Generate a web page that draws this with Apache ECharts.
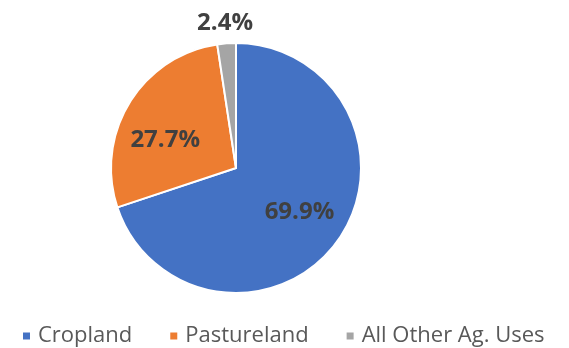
<!DOCTYPE html>
<html>
<head>
<meta charset="utf-8">
<script src="https://cdn.jsdelivr.net/npm/echarts@6/dist/echarts.min.js"></script>
<style>
  html, body { margin: 0; padding: 0; background: #fff; }
  #chart { width: 569px; height: 348px; }
</style>
</head>
<body>
<div id="chart"></div>
<script>
// Share of agricultural land by use
const categories = ['Cropland', 'Pastureland', 'All Other Ag. Uses'];
const shares = [69.9, 27.7, 2.4];
const colors = ['#4472C4', '#ED7D31', '#A5A5A5'];

const center = [236, 168];
const R = 125;
const fontFamily = '"Open Sans", sans-serif';

const slices = categories.map((name, i) => ({ name, value: shares[i] }));

const labelStyle = {
  formatter: p => p.value.toFixed(1) + '%',
  color: '#404040',
  fontSize: 24,
  fontWeight: 'bold',
  fontFamily
};

const chart = echarts.init(document.getElementById('chart'));
chart.setOption({
  animation: false,
  color: colors,
  legend: {
    data: categories,
    top: 320,
    left: 16,
    icon: 'rect',
    itemWidth: 9,
    itemHeight: 9,
    itemGap: 36,
    textStyle: { color: '#595959', fontSize: 22, fontFamily, padding: [0, 0, 0, 2] }
  },
  series: [
    {
      // the slices themselves
      type: 'pie',
      center,
      radius: [0, R],
      startAngle: 90,
      clockwise: true,
      data: slices,
      itemStyle: { borderColor: '#fff', borderWidth: 2 },
      label: { show: false },
      labelLine: { show: false },
      silent: true
    },
    {
      // value labels for the two large slices
      type: 'pie',
      center,
      radius: [28, R],
      startAngle: 90,
      data: slices.map((d, i) => ({
        ...d,
        label: { show: i < 2, offset: i === 1 ? [-3, 14] : [-1, -2] }
      })),
      itemStyle: { color: 'rgba(0,0,0,0)' },
      label: { position: 'inside', ...labelStyle },
      labelLine: { show: false },
      silent: true
    },
    {
      // value label above the thin slice
      type: 'pie',
      center,
      radius: [R + 5, R + 29],
      startAngle: 90,
      data: slices.map((d, i) => ({
        ...d,
        label: { show: i === 2 }
      })),
      itemStyle: { color: 'rgba(0,0,0,0)' },
      label: { position: 'inside', ...labelStyle },
      labelLine: { show: false },
      silent: true
    }
  ]
});
</script>
</body>
</html>
